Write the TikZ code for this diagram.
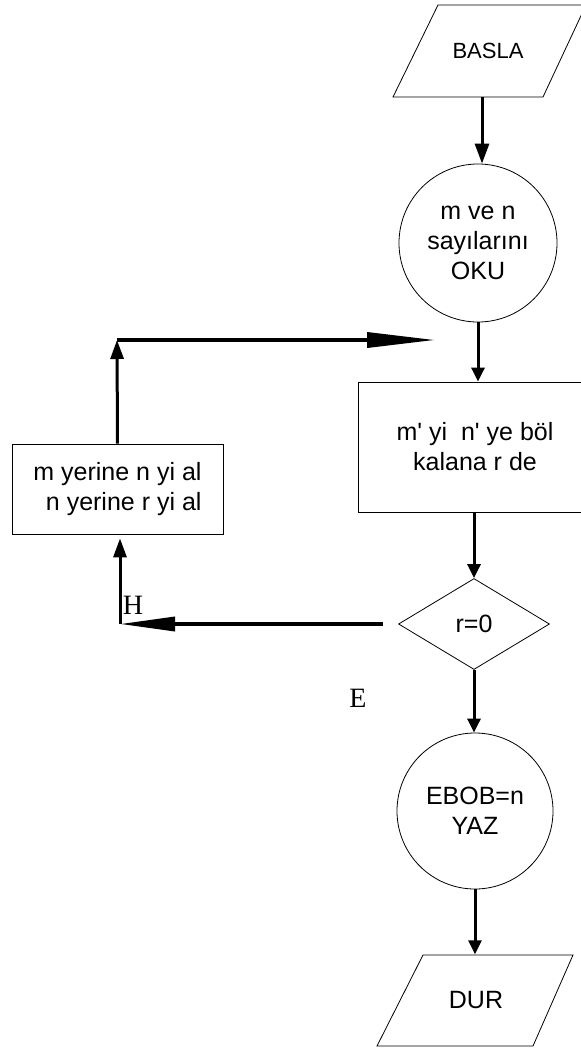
\documentclass[tikz,border=0pt]{standalone}
\usepackage{fontspec}
\setmainfont{Liberation Sans}
\newfontfamily\serifft{Liberation Serif}
\usetikzlibrary{arrows.meta,shapes.geometric}
\begin{document}
\begin{tikzpicture}[x=1pt,y=-1pt,
  shapeline/.style={draw=black, line width=0.8pt},
  txt/.style={font=\fontsize{25}{30}\selectfont, align=center, inner sep=0pt},
  conn/.style={line width=3pt, -{Triangle[width=13pt,length=14pt]}},
  connfirst/.style={line width=3pt, -{Triangle[width=14pt,length=20pt]}},
  upconn/.style={line width=3pt, -{Triangle[width=13pt,length=19pt]}},
  longright/.style={line width=3.5pt, -{Triangle[width=15pt,length=68pt]}},
  longleft/.style={line width=3.5pt, -{Triangle[width=14pt,length=55pt]}},
  lbl/.style={font=\serifft\fontsize{28}{30}\selectfont, inner sep=0pt}
]
\useasboundingbox (0,0) rectangle (581,1050);
\clip (0,0) rectangle (581,1050);

% BASLA
\draw[shapeline] (438,5) -- (586,5) -- (543,97) -- (393,97) -- cycle;
\node[txt, font=\fontsize{22}{26}\selectfont, minimum height=92pt] (basla) at (488,51) {BASLA};

% read
\node[shapeline, circle, minimum size=158pt, txt] (oku) at (478,243) {m ve n\\sayılarını\\OKU};

% divide
\node[shapeline, rectangle, minimum width=234pt, minimum height=130pt, txt] (bol) at (475,447)
  {m\textquotesingle{} yi\ \ n\textquotesingle{} ye böl\\kalana r de};

% decision
\node[shapeline, diamond, aspect=1.66, minimum width=151pt, minimum height=91pt, txt] (karar) at (474,624) {r=0};

% swap box
\node[shapeline, rectangle, minimum width=211pt, minimum height=90pt, txt, align=right] (kutu) at (117.5,489)
  {m yerine n yi al\\n yerine r yi al};

% output
\node[shapeline, circle, minimum size=156pt, txt] (ebob) at (475,811) {EBOB=n\\YAZ};

% DUR
\draw[shapeline] (423,955) -- (573,955) -- (533,1046) -- (377,1046) -- cycle;
\node[txt, minimum height=91pt] (dur) at (476,1000) {DUR};

% main column connectors
\draw[connfirst] ([xshift=-6pt]basla.south) -- ([xshift=-6pt]basla.south |- oku.north);
\draw[conn] (oku.south) -- (oku.south |- bol.north);
\draw[conn] (bol.south -| karar.north) -- (karar.north);
\draw[conn] (karar.south) -- (karar.south |- ebob.north);
\draw[conn] (ebob.south) -- (ebob.south |- dur.north);

% loop
\coordinate (alt) at (120,624);
\coordinate (ust) at (117,340);
\coordinate (hedef) at (435,340);
\draw[longleft, shorten <=15pt] (karar.west) -- (alt);
\draw[upconn, shorten >=4pt] (alt) -- (alt |- kutu.south);
\draw[upconn] (kutu.north) -- (ust);
\draw[longright] (ust) -- (hedef);

% labels
\node[lbl] (h) at (133,605) {H};
\node[lbl] (e) at (358,698) {E};
\end{tikzpicture}
\end{document}
